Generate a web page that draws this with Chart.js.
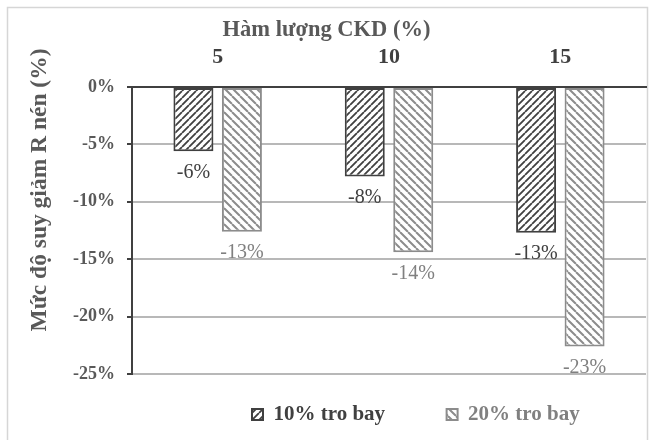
<!DOCTYPE html>
<html>
<head>
<meta charset="utf-8">
<script src="https://cdn.jsdelivr.net/npm/chart.js@4.4.0/dist/chart.umd.min.js"></script>
<style>
  html, body { margin: 0; padding: 0; background: #ffffff; }
  #wrap { width: 651px; height: 440px; }
</style>
</head>
<body>
<div id="wrap"><canvas id="chart" width="651" height="440"></canvas></div>
<script>
// CKD content (%) on the category axis
const categories = ['5', '10', '15'];
// Reduction of compressive strength (%) for each fly-ash level
const flyAsh10 = [-5.6, -7.8, -12.7];
const flyAsh20 = [-12.6, -14.4, -22.6];
const seriesNames = ['10% tro bay', '20% tro bay'];
const yTickValues = [0, -5, -10, -15, -20, -25];

const FONT = "'Liberation Serif', 'Times New Roman', serif";
const DARK = '#404040';
const GREY = '#8c8c8c';

// Diagonal hatch fill: dir 1 = "/", dir -1 = "\"
function hatch(color, period, width, dir) {
  const c = document.createElement('canvas');
  c.width = period; c.height = period;
  const g = c.getContext('2d');
  g.fillStyle = '#ffffff';
  g.fillRect(0, 0, period, period);
  g.strokeStyle = color;
  g.lineWidth = width;
  g.beginPath();
  for (let k = -1; k <= 1; k++) {
    if (dir > 0) { g.moveTo(k * period, period); g.lineTo(k * period + period, 0); }
    else { g.moveTo(k * period, 0); g.lineTo(k * period + period, period); }
  }
  g.stroke();
  return g.createPattern(c, 'repeat');
}

const ctx = document.getElementById('chart').getContext('2d');

// light frame around the whole chart
const framePlugin = {
  id: 'frame',
  beforeDraw(chart) {
    const c = chart.ctx;
    c.save();
    c.strokeStyle = '#d6d6d6';
    c.lineWidth = 1.5;
    c.strokeRect(7.5, 7.5, 640, 450);
    c.restore();
  }
};

// percentage labels under each bar end
const valueLabels = {
  id: 'valueLabels',
  afterDatasetsDraw(chart) {
    const c = chart.ctx;
    c.save();
    c.textAlign = 'center';
    c.textBaseline = 'middle';
    c.font = '20px ' + FONT;
    chart.data.datasets.forEach((ds, i) => {
      const meta = chart.getDatasetMeta(i);
      c.fillStyle = ds.labelColor;
      meta.data.forEach((bar, j) => {
        const v = ds.data[j];
        const txt = (v < 0 ? '-' : '') + Math.abs(v).toFixed(0) + '%';
        c.fillText(txt, bar.x, bar.y + 21);
      });
    });
    c.restore();
  }
};

// vertical axis caption
const yCaption = {
  id: 'yCaption',
  afterDraw(chart) {
    const c = chart.ctx;
    c.save();
    c.translate(40, 190);
    c.rotate(-Math.PI / 2);
    c.textAlign = 'center';
    c.textBaseline = 'middle';
    c.fillStyle = '#595959';
    c.font = 'bold 23.5px ' + FONT;
    c.fillText('Mức độ suy giảm R nén (%)', 0, 0);
    c.restore();
  }
};

// place the legend row under the plot
const legendPlace = {
  id: 'legendPlace',
  afterLayout(chart) {
    const lg = chart.legend;
    if (!lg) return;
    const dx = 222 - lg.left;
    lg.left += dx;
    lg.right += dx;
  }
};

const legendColors = [DARK, '#808080'];

new Chart(ctx, {
  type: 'bar',
  data: {
    labels: categories,
    datasets: [
      {
        label: seriesNames[0],
        data: flyAsh10,
        backgroundColor: hatch(DARK, 7, 1.8, 1),
        borderColor: DARK,
        borderWidth: 2,
        borderSkipped: false,
        categoryPercentage: 0.566,
        barPercentage: 0.825,
        labelColor: DARK
      },
      {
        label: seriesNames[1],
        data: flyAsh20,
        backgroundColor: hatch(GREY, 8, 2, -1),
        borderColor: GREY,
        borderWidth: 2,
        borderSkipped: false,
        categoryPercentage: 0.566,
        barPercentage: 0.825,
        labelColor: '#808080'
      }
    ]
  },
  options: {
    responsive: false,
    animation: false,
    layout: { padding: { left: 7, right: 5, top: 8, bottom: 5 } },
    plugins: {
      title: {
        display: true,
        text: 'Hàm lượng CKD (%)',
        color: '#595959',
        font: { family: FONT, size: 22.5, weight: 'bold', lineHeight: 1.2 },
        padding: { top: 9, bottom: 0 }
      },
      legend: {
        position: 'bottom',
        align: 'start',
        labels: {
          font: { family: FONT, size: 21, weight: 'bold' },
          boxWidth: 11,
          boxHeight: 11,
          padding: 30,
          generateLabels(chart) {
            const items = Chart.defaults.plugins.legend.labels.generateLabels(chart);
            items.forEach((it, i) => {
              it.fontColor = legendColors[i];
              if (i === 0) it.text = it.text + '      ';
            });
            return items;
          }
        }
      },
      tooltip: { enabled: false }
    },
    scales: {
      x: {
        position: 'top',
        grid: { display: false, drawTicks: false },
        border: { display: true, color: DARK, width: 2 },
        ticks: { color: DARK, font: { family: FONT, size: 22, weight: 'bold' }, padding: 16 },
        afterFit(s) { s.height = 43.0; }
      },
      y: {
        min: -25,
        max: 0,
        afterBuildTicks(s) { s.ticks = yTickValues.map(v => ({ value: v })); },
        grid: {
          color: c => (c.tick && c.tick.value === 0) ? DARK : '#b8b8b8',
          lineWidth: 2,
          tickColor: DARK,
          tickLength: 5
        },
        border: { color: DARK, width: 2 },
        ticks: {
          callback: v => v + '%',
          color: '#595959',
          font: { family: FONT, size: 18, weight: 'bold' },
          padding: 12
        },
        afterFit(s) { s.width = 125; }
      }
    }
  },
  plugins: [framePlugin, valueLabels, yCaption, legendPlace]
});
</script>
</body>
</html>
